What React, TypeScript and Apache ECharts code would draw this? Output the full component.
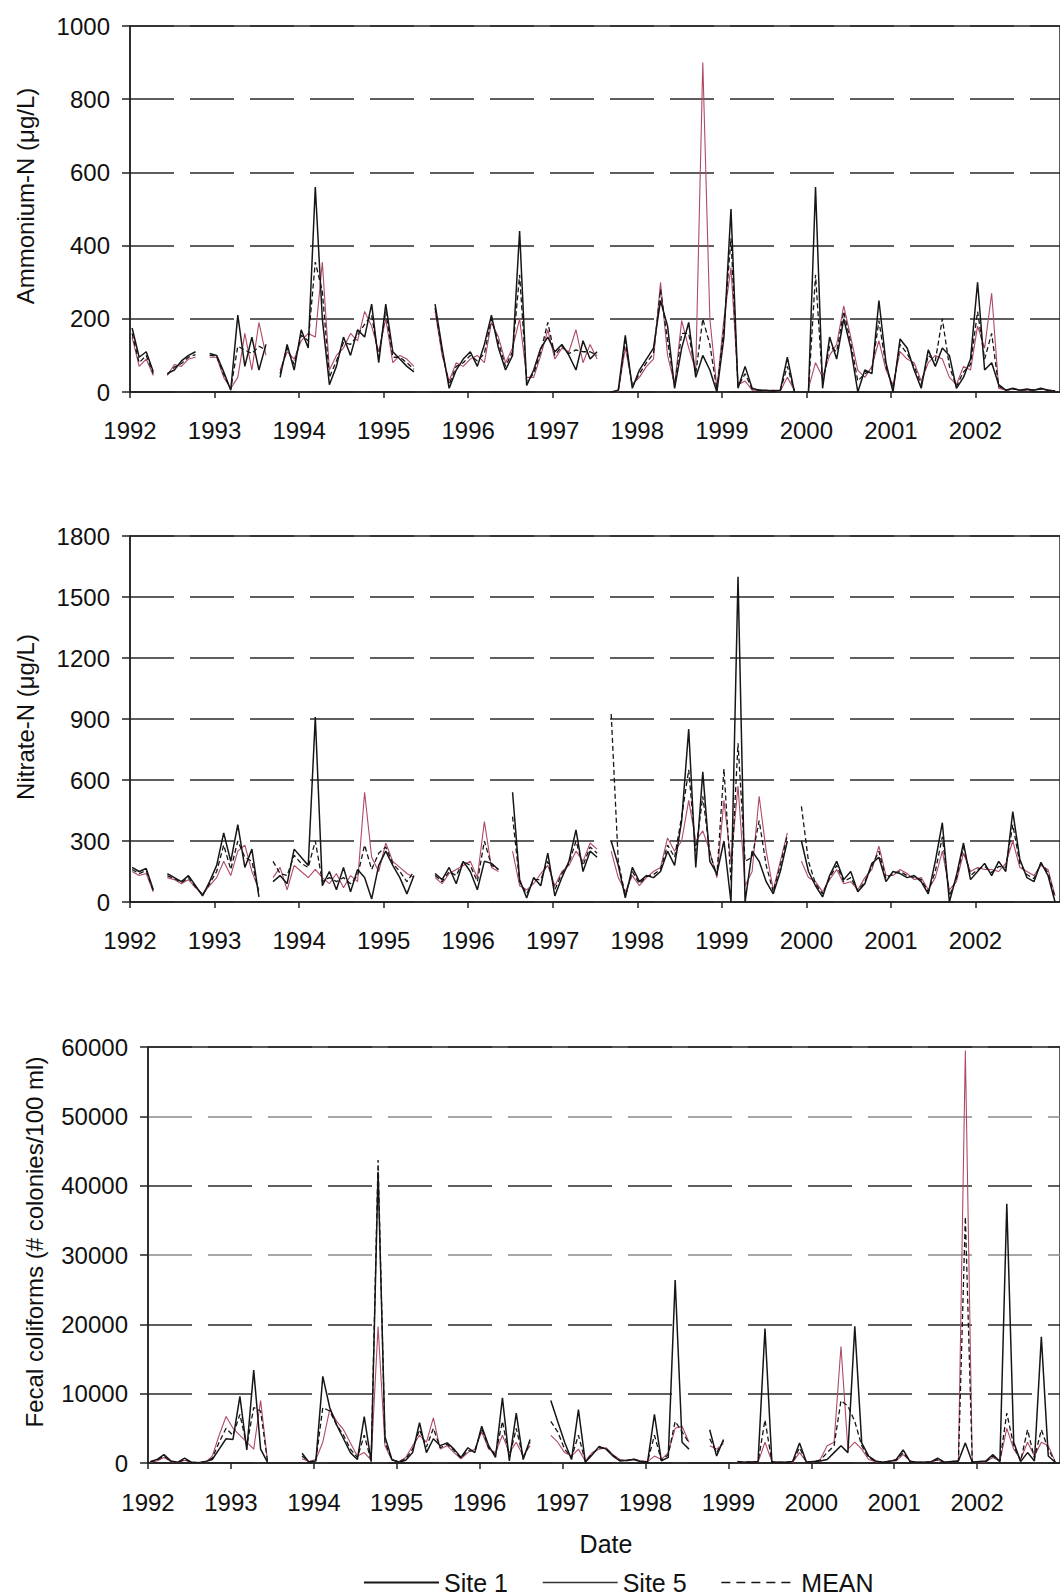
import React, { useEffect, useRef } from "react";
import * as echarts from "echarts";

// Monthly samples, Jan 1992 .. Dec 2002 (null = no sample)
const START_YEAR = 1992;
const END_YEAR = 2003;

const ammoniumSite1 = [
  175, 95, 110, 55, null, 50, 60, 85, 100, 110, null, 105,
  100, 55, 5, 210, 70, 150, 60, 130, null, 40, 130, 60,
  170, 120, 560, 200, 20, 70, 150, 100, 170, 150, 240, 80,
  240, 110, 90, 70, 55, null, null, 240, 120, 10, 60, 90,
  110, 70, 130, 210, 120, 60, 100, 440, 18, 60, 120, 150,
  110, 130, 100, 60, 140, 90, 110, null, 0, 5, 155, 10,
  60, 90, 120, 250, 180, 10, 120, 190, 40, 100, 60, 0,
  150, 500, 10, 70, 10, 5, 5, 3, 5, 95, 0, null,
  0, 560, 10, 150, 90, 200, 120, 0, 60, 50, 250, 80,
  0, 145, 120, 60, 10, 115, 70, 120, 100, 10, 40, 90,
  300, 60, 80, 20, 5, 10, 5, 8, 5, 10, 5, 3,
];
const ammoniumSite5 = [
  150, 70, 90, 45, null, 45, 75, 70, 90, 95, null, 95,
  95, 40, 10, 40, 160, 60, 190, 100, null, 60, 110, 90,
  140, 160, 150, 355, 60, 100, 120, 160, 140, 220, 180, 110,
  200, 80, 100, 90, 70, null, null, 220, 100, 30, 80, 70,
  90, 100, 80, 190, 150, 80, 120, 200, 40, 40, 100, 170,
  90, 120, 110, 170, 80, 130, 90, null, 0, 0, 120, 20,
  40, 70, 90, 300, 100, 20, 195, 120, 60, 900, 200, 10,
  200, 340, 20, 30, 5, 5, 3, 5, 3, 40, 5, null,
  10, 80, 40, 100, 130, 235, 150, 60, 40, 70, 140, 60,
  20, 110, 90, 80, 30, 80, 100, 90, 40, 20, 70, 60,
  180, 120, 270, 10, 5, 8, 5, 5, 5, 8, 5, 3,
];
const ammoniumMean = [
  160, 80, 100, 50, null, 48, 68, 78, 95, 102, null, 100,
  98, 48, 8, 125, 115, 105, 125, 115, null, 50, 120, 75,
  155, 140, 355, 275, 40, 85, 135, 130, 155, 185, 210, 95,
  220, 95, 95, 80, 62, null, null, 230, 110, 20, 70, 80,
  100, 85, 105, 200, 135, 70, 110, 320, 30, 50, 110, 190,
  100, 125, 105, 115, 110, 110, 100, null, 0, 2, 140, 15,
  50, 80, 105, 280, 140, 15, 160, 160, 50, 200, 130, 5,
  175, 420, 15, 50, 8, 5, 4, 4, 4, 70, 3, null,
  5, 320, 25, 125, 110, 220, 135, 30, 50, 60, 195, 70,
  10, 130, 105, 70, 20, 100, 85, 200, 70, 15, 55, 75,
  220, 90, 160, 15, 5, 8, 6, 6, 5, 8, 5, 3,
];

const nitrateSite1 = [
  170, 150, 165, 60, null, 140, 120, 100, 130, 80, 30, 100,
  180, 340, 200, 380, 170, 260, 25, null, 100, 130, 90, 260,
  220, 180, 910, 80, 150, 60, 170, 50, 160, 120, 15, 180,
  250, 180, 120, 40, 130, null, null, 140, 110, 170, 90, 200,
  150, 60, 200, 190, 160, null, 540, 110, 20, 120, 80, 240,
  30, 120, 200, 355, 150, 250, 220, null, 300, 180, 20, 170,
  100, 130, 120, 150, 250, 180, 400, 850, 170, 640, 200, 140,
  300, 0, 1600, 0, 250, 200, 100, 40, 150, 300, null, 300,
  150, 80, 25, 130, 200, 110, 150, 50, 90, 190, 220, 100,
  150, 140, 120, 130, 100, 40, 200, 390, 0, 130, 290, 110,
  150, 190, 130, 200, 150, 445, 210, 120, 100, 195, 130, 0,
];
const nitrateSite5 = [
  150, 130, 140, 50, null, 120, 110, 90, 110, 70, 40, 80,
  120, 200, 130, 250, 280, 150, 60, null, 120, 170, 60, 180,
  150, 120, 160, 120, 90, 140, 70, 130, 100, 540, 220, 150,
  290, 200, 170, 140, 120, null, null, 120, 90, 140, 160, 180,
  200, 120, 395, 170, 150, null, 250, 80, 60, 90, 140, 180,
  80, 150, 180, 250, 200, 290, 260, null, 250, 120, 50, 130,
  80, 120, 150, 170, 315, 250, 300, 500, 300, 350, 250, 120,
  500, 200, 570, 80, 150, 520, 250, 60, 200, 340, null, 200,
  120, 100, 50, 110, 160, 90, 100, 60, 120, 160, 275, 130,
  130, 160, 140, 110, 120, 60, 120, 250, 60, 100, 240, 150,
  170, 160, 160, 150, 190, 300, 170, 150, 130, 180, 160, 30,
];
const nitrateMean = [
  160, 140, 155, 55, null, 130, 115, 95, 120, 75, 35, 90,
  150, 280, 160, 300, 220, 200, 40, null, 200, 140, 130, 230,
  190, 170, 300, 100, 120, 100, 120, 90, 130, 280, 160, 240,
  270, 190, 150, 100, 150, null, null, 130, 100, 150, 130, 200,
  180, 100, 300, 180, 160, null, 420, 100, 40, 110, 110, 200,
  60, 140, 190, 300, 180, 270, 240, null, 925, 200, 30, 150,
  90, 125, 135, 160, 280, 220, 420, 650, 250, 520, 240, 130,
  655, 100, 780, 200, 220, 400, 180, 50, 180, 330, null, 470,
  200, 90, 40, 120, 180, 100, 120, 55, 100, 175, 250, 115,
  140, 150, 130, 120, 110, 50, 150, 320, 30, 115, 270, 130,
  160, 175, 145, 175, 170, 380, 190, 135, 115, 190, 145, 20,
];

const fecalSite1 = [
  200, 500, 1200, 300, 100, 700, 100, 50, 200, 500, 2000, 3500,
  3400, 9600, 1900, 13400, 2000, 100, null, null, null, null, 1400, 100,
  300, 12500, 8000, 5500, 3500, 1500, 500, 6700, 200, 42000, 3800, 500,
  100, 400, 1500, 5800, 1500, 3500, 2500, 2900, 2000, 800, 2200, 1500,
  5300, 2500, 800, 9400, 300, 7200, 500, 3400, null, null, 9000, 6000,
  3000, 500, 7700, 100, 1200, 2400, 2000, 1000, 300, 400, 500, 200,
  100, 7000, 300, 800, 26400, 3000, 2000, null, null, 4800, 1000, 3400,
  null, 200, 100, 100, 200, 19400, 100, 100, 100, 200, 2900, 100,
  200, 300, 500, 1500, 2500, 1500, 19700, 2900, 1000, 300, 100, 200,
  500, 1900, 200, 100, 100, 150, 700, 100, 200, 300, 2900, 100,
  200, 300, 1200, 200, 37400, 3000, 200, 1500, 300, 18200, 1000, 100,
];
const fecalSite5 = [
  100, 300, 800, 200, 50, 400, 100, 50, 100, 1000, 4000, 6700,
  5000, 4000, 3000, 2000, 9000, 300, null, null, null, null, 600, 200,
  500, 3000, 7700, 6000, 4800, 2900, 1000, 1500, 400, 19700, 2500, 400,
  200, 800, 2500, 4000, 3000, 6500, 2000, 2500, 1500, 600, 1500, 2000,
  4500, 2000, 1500, 4000, 1500, 3000, 1000, 2500, null, null, 4000, 3000,
  1500, 1000, 2000, 300, 1500, 2000, 2200, 1200, 500, 300, 600, 300,
  200, 1000, 500, 1500, 5000, 5300, 3000, null, null, 2500, 2000, 2800,
  null, 100, 100, 200, 100, 3000, 200, 100, 100, 100, 1500, 200,
  100, 500, 2500, 3000, 16800, 2000, 3000, 2000, 500, 200, 100, 300,
  300, 1200, 300, 100, 100, 200, 400, 100, 200, 300, 59500, 200,
  100, 200, 800, 300, 5000, 2000, 500, 3000, 1000, 3000, 2500, 200,
];
const fecalMean = [
  150, 400, 1000, 250, 80, 550, 100, 50, 150, 700, 3000, 5000,
  4000, 7000, 2500, 8000, 7500, 200, null, null, null, null, 1000, 150,
  400, 8000, 7500, 5500, 4000, 2000, 800, 4000, 300, 43700, 3000, 450,
  150, 600, 2000, 4800, 2300, 5000, 2200, 2700, 1800, 700, 1800, 1700,
  5000, 2200, 1200, 6000, 800, 5000, 700, 3000, null, null, 6000, 4500,
  2000, 800, 4000, 200, 1300, 2200, 2100, 1100, 400, 350, 550, 250,
  150, 4000, 400, 1200, 6000, 4500, 2900, null, null, 3500, 1500, 3200,
  null, 150, 100, 150, 150, 6200, 150, 100, 100, 150, 2200, 150,
  150, 400, 1500, 2500, 9000, 8200, 6000, 2500, 800, 250, 100, 250,
  400, 1500, 250, 100, 100, 170, 500, 100, 200, 300, 35500, 150,
  150, 250, 1000, 250, 7200, 2500, 300, 4800, 700, 4800, 2000, 150,
];

const seriesNames = ["Site 1", "Site 5", "MEAN"];
const panelTitles = [
  "Ammonium-N (μg/L)",
  "Nitrate-N (μg/L)",
  "Fecal coliforms (# colonies/100 ml)",
];
const yMax = [1000, 1800, 60000];
const yInterval = [200, 300, 10000];

const FONT = "'Liberation Sans', Arial, sans-serif";

function toPairs(vals: (number | null)[]) {
  return vals.map((v, i) => [START_YEAR + (i + 0.3) / 12, v === null ? "-" : v]);
}

export default function App() {
  const ref = useRef<HTMLDivElement>(null);

  useEffect(() => {
    document.body.style.margin = "0";
    if (!ref.current) return;
    const chart = echarts.init(ref.current, null, { renderer: "svg" });

    const grids = [
      { left: 130, top: 26, width: 933, height: 366 },
      { left: 130, top: 536, width: 933, height: 366 },
      { left: 148, top: 1047, width: 919, height: 416 },
    ].map((g) => ({ ...g, show: true, borderColor: "#222", borderWidth: 1.5, backgroundColor: "transparent" }));

    const xAxes = [0, 1, 2].map((gi) => ({
      type: "value",
      gridIndex: gi,
      min: START_YEAR,
      max: END_YEAR,
      interval: 1,
      axisLine: { show: true, onZero: false, lineStyle: { color: "#222", width: 1.5 } },
      axisTick: { show: true, length: 6, lineStyle: { color: "#222", width: 1.5 } },
      axisLabel: {
        color: "#111",
        fontSize: 24,
        fontFamily: FONT,
        margin: gi === 2 ? 27 : 26,
        showMaxLabel: false,
        formatter: (v: number) => (v >= END_YEAR ? "" : String(v)),
      },
      splitLine: { show: false },
    }));

    const gridColors = [
      "#2a2a2a",
      "#2a2a2a",
      ["#2a2a2a", "#2a2a2a", "#2a2a2a", "#8a8a8a", "#2a2a2a", "#8a8a8a", "#2a2a2a"],
    ];

    const yAxes = [0, 1, 2].map((gi) => ({
      type: "value",
      gridIndex: gi,
      min: 0,
      max: yMax[gi],
      interval: yInterval[gi],
      axisLine: { show: true, lineStyle: { color: "#222", width: 1.5 } },
      axisTick: { show: true, length: 8, lineStyle: { color: "#222", width: 1.5 } },
      axisLabel: {
        color: "#111",
        fontSize: 24,
        fontFamily: FONT,
        margin: 20,
        formatter: (v: number) => String(v),
      },
      splitLine: {
        show: true,
        lineStyle: { color: gridColors[gi], width: 1.6, type: [44, 16] },
      },
    }));

    const styles = [
      { color: "#161616", width: 1.5, type: "solid" },
      { color: "#b04a63", width: 1.1, type: "solid" },
      { color: "#161616", width: 1.3, type: [5, 3] },
    ];

    const panels = [
      [ammoniumSite1, ammoniumSite5, ammoniumMean],
      [nitrateSite1, nitrateSite5, nitrateMean],
      [fecalSite1, fecalSite5, fecalMean],
    ];

    const series: any[] = [];
    panels.forEach((panel, gi) => {
      panel.forEach((vals, si) => {
        series.push({
          name: seriesNames[si],
          type: "line",
          xAxisIndex: gi,
          yAxisIndex: gi,
          data: toPairs(vals),
          symbol: "none",
          showSymbol: false,
          connectNulls: false,
          silent: true,
          lineStyle: styles[si],
          itemStyle: { color: styles[si].color },
          z: si === 0 ? 4 : si === 2 ? 3 : 2,
        });
      });
    });

    const titlePos = [
      { x: 25, y: 196 },
      { x: 25, y: 717 },
      { x: 34, y: 1242 },
    ];

    const graphic: any[] = titlePos.map((p, i) => ({
      type: "text",
      x: p.x,
      y: p.y,
      rotation: Math.PI / 2,
      style: {
        text: panelTitles[i],
        fontSize: 24,
        fontFamily: FONT,
        fill: "#111",
        align: "center",
        verticalAlign: "middle",
      },
    }));
    graphic.push({
      type: "text",
      x: 606,
      y: 1544,
      style: {
        text: "Date",
        fontSize: 25,
        fontFamily: FONT,
        fill: "#111",
        align: "center",
        verticalAlign: "middle",
      },
    });

    chart.setOption({
      animation: false,
      backgroundColor: "#ffffff",
      grid: grids,
      xAxis: xAxes,
      yAxis: yAxes,
      legend: {
        left: 363,
        top: 1570,
        padding: 0,
        itemWidth: 75,
        itemHeight: 14,
        itemGap: 34,
        itemStyle: { opacity: 0 },
        textStyle: { fontSize: 25, fontFamily: FONT, color: "#111" },
        data: [
          { name: "Site 1", itemStyle: { opacity: 0 } },
          { name: "Site 5", itemStyle: { opacity: 0 }, lineStyle: { color: "#333", width: 1.5 } },
          { name: "MEAN", itemStyle: { opacity: 0 }, lineStyle: { type: [9, 6], width: 1.5 } },
        ],
      },
      graphic,
      series,
    });

    return () => chart.dispose();
  }, []);

  return <div ref={ref} style={{ width: 1060, height: 1596 }} />;
}
